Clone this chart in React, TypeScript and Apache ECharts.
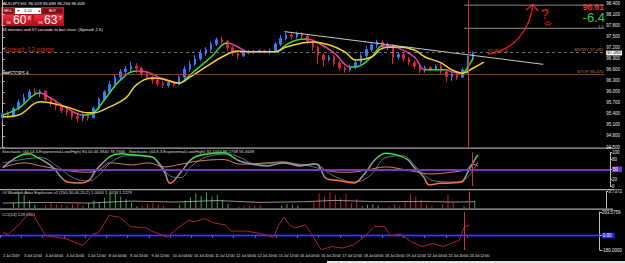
import React, { useEffect, useRef } from 'react';
import * as echarts from 'echarts';

const SLOT_COUNT = 113;
const timeLabels = [
  '2 Jul 2019', '3 Jul 12:00', '4 Jul 04:00', '4 Jul 20:00', '5 Jul 12:00', '8 Jul 04:00',
  '8 Jul 20:00', '9 Jul 12:00', '10 Jul 04:00', '10 Jul 20:00', '11 Jul 12:00', '12 Jul 04:00',
  '12 Jul 20:00', '15 Jul 12:00', '16 Jul 04:00', '16 Jul 20:00', '17 Jul 12:00', '18 Jul 04:00',
  '18 Jul 20:00', '19 Jul 12:00', '22 Jul 04:00', '22 Jul 20:00', '23 Jul 12:00',
];

// [open, close, low, high]
const candles = [
  [95.30, 95.40, 95.22, 95.45], [95.40, 95.36, 95.28, 95.48], [95.36, 95.55, 95.32, 95.60],
  [95.55, 95.72, 95.50, 95.80], [95.72, 95.85, 95.65, 95.95], [95.85, 96.00, 95.80, 96.08],
  [96.00, 95.95, 95.88, 96.10], [95.95, 96.02, 95.85, 96.07], [96.02, 95.80, 95.75, 96.05],
  [95.80, 95.70, 95.60, 95.85], [95.70, 95.62, 95.50, 95.78], [95.62, 95.50, 95.42, 95.66],
  [95.50, 95.45, 95.35, 95.58], [95.45, 95.33, 95.25, 95.52], [95.33, 95.28, 95.18, 95.40],
  [95.28, 95.35, 95.20, 95.42], [95.35, 95.30, 95.22, 95.44], [95.30, 95.55, 95.28, 95.60],
  [95.55, 95.80, 95.50, 95.85], [95.80, 96.00, 95.75, 96.05], [96.00, 96.20, 95.95, 96.30],
  [96.20, 96.40, 96.10, 96.48], [96.40, 96.55, 96.35, 96.62], [96.55, 96.62, 96.45, 96.70],
  [96.62, 96.70, 96.52, 96.82], [96.70, 96.64, 96.52, 96.78], [96.64, 96.50, 96.42, 96.70],
  [96.50, 96.40, 96.32, 96.56], [96.40, 96.32, 96.22, 96.45], [96.32, 96.22, 96.15, 96.38],
  [96.22, 96.18, 96.10, 96.30], [96.18, 96.25, 96.12, 96.32], [96.25, 96.20, 96.14, 96.30],
  [96.20, 96.40, 96.18, 96.45], [96.40, 96.62, 96.35, 96.70], [96.62, 96.75, 96.55, 96.85],
  [96.75, 96.90, 96.70, 97.00], [96.90, 97.05, 96.85, 97.15], [97.05, 97.15, 96.98, 97.22],
  [97.15, 97.30, 97.10, 97.38], [97.30, 97.42, 97.25, 97.48], [97.42, 97.38, 97.30, 97.50],
  [97.38, 97.20, 97.12, 97.42], [97.20, 97.05, 96.98, 97.25], [97.05, 96.98, 96.90, 97.12],
  [96.98, 97.06, 96.95, 97.12], [97.06, 97.10, 97.02, 97.14], [97.10, 97.08, 97.03, 97.14],
  [97.08, 97.12, 97.05, 97.16], [97.12, 97.08, 97.04, 97.15], [97.08, 97.12, 97.02, 97.18],
  [97.12, 97.30, 97.10, 97.35], [97.30, 97.45, 97.25, 97.55], [97.45, 97.55, 97.40, 97.62],
  [97.55, 97.50, 97.42, 97.60], [97.50, 97.58, 97.45, 97.64], [97.58, 97.52, 97.44, 97.62],
  [97.52, 97.38, 97.30, 97.56], [97.38, 97.22, 97.12, 97.42], [97.22, 97.00, 96.75, 97.25],
  [97.00, 96.88, 96.70, 97.05], [96.88, 96.95, 96.82, 97.00], [96.95, 96.78, 96.70, 97.00],
  [96.78, 96.65, 96.58, 96.85], [96.65, 96.60, 96.52, 96.70], [96.60, 96.68, 96.55, 96.74],
  [96.68, 96.80, 96.62, 96.86], [96.80, 96.98, 96.75, 97.05], [96.98, 97.15, 96.92, 97.25],
  [97.15, 97.28, 97.10, 97.35], [97.28, 97.35, 97.20, 97.42], [97.35, 97.22, 97.15, 97.40],
  [97.22, 97.28, 97.14, 97.34], [97.28, 96.95, 96.75, 97.30], [96.95, 97.02, 96.88, 97.08],
  [97.02, 96.90, 96.82, 97.06], [96.90, 96.80, 96.72, 96.95], [96.80, 96.70, 96.62, 96.85],
  [96.70, 96.58, 96.50, 96.75], [96.58, 96.66, 96.52, 96.72], [96.66, 96.62, 96.56, 96.70],
  [96.62, 96.70, 96.58, 96.75], [96.70, 96.55, 96.48, 96.78], [96.55, 96.42, 96.28, 96.60],
  [96.42, 96.48, 96.30, 96.55], [96.48, 96.40, 96.32, 96.52], [96.40, 96.60, 96.38, 96.65],
  [96.60, 96.90, 96.50, 96.98], [96.90, 97.06, 96.84, 97.10],
];

const fastMA = [
  [0, 95.37], [3, 95.56], [7, 95.97], [9, 95.83], [12, 95.56], [15, 95.37], [17, 95.43], [19, 95.78],
  [22, 96.32], [25, 96.57], [27, 96.54], [30, 96.35], [33, 96.24], [35, 96.46], [39, 96.95], [42, 97.33],
  [44, 97.22], [46, 97.09], [51, 97.09], [53, 97.28], [55, 97.41], [57, 97.44], [59, 97.33], [62, 97.06],
  [65, 96.68], [66, 96.68], [69, 96.95], [71, 97.25], [74, 97.19], [77, 96.95], [79, 96.60], [81, 96.60],
  [83, 96.60], [84, 96.54], [86, 96.51], [87, 96.68], [88, 96.92],
];
const slowMA = [
  [0, 95.32], [3, 95.37], [7, 95.73], [12, 95.59], [16, 95.43], [17, 95.43], [20, 95.59], [23, 95.83],
  [25, 96.19], [28, 96.38], [30, 96.35], [33, 96.24], [35, 96.40], [38, 96.68], [41, 96.95], [44, 97.11],
  [46, 97.09], [51, 97.09], [53, 97.22], [56, 97.33], [58, 97.36], [61, 97.28], [64, 97.09], [66, 96.87],
  [69, 96.95], [71, 97.19], [74, 97.22], [77, 97.14], [79, 96.95], [82, 96.79], [84, 96.60], [86, 96.51],
  [88, 96.65], [90, 96.81],
];
const trendLine = [[52.7, 97.64], [101.1, 96.75]];
const upperLevelLine = [[86.3, 98.36], [112.5, 98.36]];
const ratioLevelLine = [[86.3, 97.73], [112.5, 97.73]];
const entryLevel = 97.085;
const stopLevel = 96.47;
const markerIndex = 87;
const priceTicks = [94.5, 94.8, 95.1, 95.4, 95.7, 96.0, 96.3, 96.6, 96.9, 97.2, 97.5, 97.8, 98.1, 98.4];

const stochMain = [
  [0, 55], [3, 89], [5, 96], [6, 89], [9, 60], [11, 23], [12, 12], [14, 9], [16, 17], [17, 41], [18, 60],
  [20, 89], [22, 96], [24, 93], [27, 88], [28, 84], [30, 41], [31, 8], [33, 41], [35, 80], [37, 93], [41, 99],
  [42, 93], [44, 74], [49, 60], [52, 69], [55, 60], [58, 66], [60, 22], [62, 17], [65, 9], [67, 36], [69, 79],
  [71, 98], [73, 93], [75, 79], [76, 60], [78, 27], [79, 3], [81, 8], [83, 9], [85, 12], [86, 36], [87, 66],
  [88, 93],
];
const stochSignal = [
  [0, 55], [4, 69], [7, 60], [12, 46], [16, 41], [18, 50], [20, 69], [24, 63], [27, 69], [30, 57], [33, 65],
  [36, 74], [41, 79], [44, 65], [49, 69], [52, 72], [55, 63], [58, 66], [60, 46], [64, 41], [67, 46], [71, 57],
  [74, 50], [77, 41], [79, 36], [83, 41], [86, 50], [87, 65], [88, 60],
];
const stochSlow = [
  [0, 69], [4, 80], [7, 85], [10, 60], [13, 25], [16, 15], [18, 35], [20, 70], [23, 90], [27, 90], [29, 70],
  [31, 30], [33, 25], [35, 60], [38, 88], [42, 95], [44, 85], [47, 65], [52, 70], [56, 62], [59, 50], [62, 25],
  [65, 12], [68, 30], [71, 85], [74, 90], [77, 50], [80, 15], [84, 12], [86, 25], [88, 70],
];
const stochTicks = [0, 20, 50, 80, 100];

const histUp = [
  0, 0, 30, 95, 80, 45, 20, 0, 0, 0,
  0, 0, 0, 0, 0, 0, 30, 45, 35, 60,
  85, 95, 70, 55, 35, 10, 0, 0, 0, 0,
  0, 0, 0, 20, 45, 65, 90, 75, 95, 70,
  80, 50, 25, 0, 0, 0, 0, 0, 0, 0,
  0, 0, 15, 25, 20, 15, 0, 0, 0, 0,
  0, 0, 0, 0, 0, 0, 0, 10, 20, 25,
  15, 0, 0, 0, 0, 0, 0, 0, 0, 0,
  0, 0, 0, 0, 0, 0, 10, 30, 45,
];
const histDown = [
  0, 0, 0, 0, 0, 0, 0, 0, 20, 30,
  25, 20, 15, 25, 30, 15, 0, 0, 0, 0,
  0, 0, 0, 0, 0, 0, 15, 25, 30, 20,
  15, 0, 0, 0, 0, 0, 0, 0, 0, 0,
  0, 0, 0, 0, 10, 15, 10, 15, 20, 0,
  0, 0, 0, 0, 0, 0, 0, 0, 40, 90,
  70, 95, 80, 60, 85, 30, 55, 0, 0, 0,
  0, 0, 10, 25, 15, 40, 85, 70, 50, 20,
  15, 0, 25, 80, 30, 0, 0, 0, 0,
];
const explosionLine = [
  [0, 30], [8, 34], [16, 30], [24, 42], [32, 36], [40, 45], [48, 34], [56, 38], [62, 46], [70, 38],
  [78, 40], [84, 36], [88, 38],
];

const cci = [
  [0, 37], [1, 17], [3, 133], [5, 287], [6, 229], [8, -2], [12, -40], [14, -98], [15, -118], [16, -60],
  [17, 17], [18, 37], [20, 249], [22, 229], [24, 113], [27, 95], [28, 56], [31, -21], [33, 95], [35, 191],
  [36, 171], [38, 211], [40, 153], [42, 133], [43, 56], [46, 56], [49, 17], [51, -21], [52, 133], [53, 229],
  [54, 133], [55, 95], [57, 133], [58, 37], [60, -176], [62, -137], [64, -156], [66, -118], [68, -21],
  [70, 113], [72, 113], [73, -2], [75, 17], [77, -79], [79, -137], [81, -98], [83, -137], [86, -60],
  [87, 113], [88, 130],
];
const cciMax = 293.5759;
const cciMin = -180;

const FONT = 'Liberation Sans';
const UP_MA = '#35d84a';
const DOWN_MA = '#e0409c';
const MARKER = '#d03434';

function txt(text: string, x: number, y: number, fill: string, fontSize: number, extra: any = {}) {
  return {
    type: 'text', x, y, silent: true,
    style: { text, fill, fontSize, fontFamily: FONT, verticalAlign: 'middle', align: 'left', ...extra },
  };
}

function buildOption() {
  const slots = Array.from({ length: SLOT_COUNT }, (_, i) => 's' + i);
  const lastClose = candles[candles.length - 1][1];

  const maPieces: any[] = fastMA.slice(0, -1).map((p, i) => ({
    gte: p[0], lt: fastMA[i + 1][0], color: fastMA[i + 1][1] >= p[1] ? UP_MA : DOWN_MA,
  }));
  maPieces.push({ gte: fastMA[fastMA.length - 1][0], color: UP_MA });

  const vLine = { xAxis: markerIndex, lineStyle: { color: MARKER, width: 1, type: 'solid' }, label: { show: false } };
  const hiddenCat = (gridIndex: number) => ({
    type: 'category', gridIndex, data: slots, boundaryGap: true, show: false,
  });
  const rightAxisBase = {
    position: 'right',
    axisLine: { show: true, lineStyle: { color: '#bdbdbd', width: 1 } },
    axisTick: { show: true, length: 2, lineStyle: { color: '#bdbdbd' } },
    splitLine: { show: false },
  };
  const labelBase = { color: '#e6e6e6', fontSize: 4.5, fontFamily: FONT, margin: 2 };

  const graphics: any[] = [
    // panel separators
    { type: 'rect', shape: { x: 0, y: 147.5, width: 613, height: 1.2 }, style: { fill: '#a8a8a8' }, silent: true },
    { type: 'rect', shape: { x: 0, y: 189, width: 613, height: 1.2 }, style: { fill: '#a8a8a8' }, silent: true },
    { type: 'rect', shape: { x: 0, y: 208.6, width: 613, height: 1.2 }, style: { fill: '#a8a8a8' }, silent: true },
    { type: 'rect', shape: { x: 327, y: 261, width: 298, height: 2 }, style: { fill: '#e4e4e4' }, silent: true },
    // title + trade panel
    txt('AUDJPY,H4  96.618 96.689 96.294 96.608', 3, 3.3, '#e8e8e8', 4.3),
    { type: 'rect', shape: { x: 1, y: 7, width: 63, height: 19 }, style: { fill: '#b8121c' }, silent: true },
    { type: 'rect', shape: { x: 2, y: 8, width: 12, height: 6 }, style: { fill: '#7d0a12', stroke: '#e25a5a', lineWidth: 0.4 }, silent: true },
    txt('SELL', 8, 11, '#ffffff', 3.5, { align: 'center' }),
    { type: 'rect', shape: { x: 15, y: 8, width: 26, height: 6 }, style: { fill: '#ffffff' }, silent: true },
    txt('▼', 16.5, 11, '#333', 3.5),
    txt('0.10', 28, 11, '#111', 3.8, { align: 'center' }),
    txt('▲', 37.5, 11, '#333', 3.5),
    { type: 'rect', shape: { x: 42, y: 8, width: 21, height: 6 }, style: { fill: '#7d0a12', stroke: '#e25a5a', lineWidth: 0.4 }, silent: true },
    txt('BUY', 52.5, 11, '#ffffff', 3.5, { align: 'center' }),
    {
      type: 'rect', shape: { x: 2, y: 15, width: 30, height: 11 }, silent: true,
      style: { fill: { type: 'linear', x: 0, y: 0, x2: 0, y2: 1, colorStops: [{ offset: 0, color: '#f0303a' }, { offset: 1, color: '#a80c14' }] } },
    },
    {
      type: 'rect', shape: { x: 34, y: 15, width: 29, height: 11 }, silent: true,
      style: { fill: { type: 'linear', x: 0, y: 0, x2: 0, y2: 1, colorStops: [{ offset: 0, color: '#f0303a' }, { offset: 1, color: '#a80c14' }] } },
    },
    txt('96', 6.5, 22.5, '#ffffff', 4),
    txt('60', 13, 20.3, '#ffffff', 12),
    txt('8', 28, 17.5, '#ffffff', 5),
    txt('96', 38.3, 22.5, '#ffffff', 4),
    txt('63', 44, 20.3, '#ffffff', 12),
    txt('7', 59, 17.5, '#ffffff', 5),
    txt('44 minutes and 57 seconds to bar close. (Spread: 2.6)', 2, 29.4, '#e8e8e8', 4.2),
    txt('Spread: 12 points', 3, 49.5, '#d42424', 6.5),
    txt('###STOPS 4', 2, 73, '#e8e8e8', 4.5),
    txt('97.06 (2.6)', 488, 50, '#b07040', 4.3),
    txt('1:1', 604, 26.4, '#bdbdbd', 4.3, { align: 'right' }),
    // top right info
    txt('96.61', 604, 6.6, '#ff2222', 8.5, { align: 'right', fontWeight: 'bold' }),
    txt('-6.4', 605, 17.7, '#2fd23a', 13, { align: 'right' }),
    // red arrow annotation
    {
      type: 'bezierCurve', silent: true,
      shape: { x1: 488, y1: 54, x2: 533, y2: 5, cpx1: 516, cpy1: 50, cpx2: 530, cpy2: 28 },
      style: { stroke: '#e21a1a', lineWidth: 1.4, fill: null },
    },
    {
      type: 'polyline', silent: true,
      shape: { points: [[526, 10], [533, 4.5], [538, 11]] },
      style: { stroke: '#e21a1a', lineWidth: 1.4, fill: null },
    },
    txt('?', 541, 14, '#e21a1a', 14),
    { type: 'ellipse', silent: true, shape: { cx: 548, cy: 23.5, rx: 3.2, ry: 1.5 }, style: { stroke: '#e21a1a', lineWidth: 1, fill: null } },
    // indicator headers
    txt('Stochastic (44,14,3,Exponential,Low/High) 80.00 46.3940 78.7946   Stochastic (44,8,3,Exponential,Low/High) 92.1349 89.2758 55.4639', 2, 151.8, '#dcdcdc', 4.2),
    txt('#4 Waddah Attar Explosion v2 (150,30,40,20,2) 1.0000 1.4073 1.1229', 2, 192.3, '#dcdcdc', 4.2),
    txt('CCI(14) 129.6961', 2, 214.5, '#dcdcdc', 4.2),
  ];

  return {
    animation: false,
    backgroundColor: '#000000',
    textStyle: { fontFamily: FONT },
    grid: [
      { left: 0, right: 13, top: 0, height: 147 },
      { left: 0, right: 13, top: 152.5, height: 33.5 },
      { left: 0, right: 13, top: 191.5, height: 16.5 },
      { left: 0, right: 13, top: 212, height: 38 },
    ],
    xAxis: [
      hiddenCat(0),
      hiddenCat(1),
      hiddenCat(2),
      {
        type: 'category', gridIndex: 3, data: slots, boundaryGap: true,
        axisLine: { show: true, lineStyle: { color: '#bdbdbd' } },
        axisTick: { show: true, length: 2, interval: (i: number) => i % 4 === 0 && i / 4 < timeLabels.length, lineStyle: { color: '#bdbdbd' } },
        axisLabel: {
          color: '#e6e6e6', fontSize: 3.6, fontFamily: FONT, margin: 4, interval: 0, align: 'left',
          formatter: (_v: string, i: number) => (i % 4 === 0 && timeLabels[i / 4]) ? timeLabels[i / 4] : '',
        },
      },
      { type: 'value', gridIndex: 0, min: -0.5, max: SLOT_COUNT - 0.5, show: false },
    ],
    yAxis: [
      {
        type: 'value', gridIndex: 0, min: 94.5, max: 98.5, ...rightAxisBase,
        axisTick: { ...rightAxisBase.axisTick, customValues: priceTicks },
        axisLabel: {
          ...labelBase,
          customValues: [...priceTicks, lastClose],
          formatter: (v: number) => (Math.abs(v - lastClose) < 1e-9 ? '{c|' + v.toFixed(3) + '}' : v.toFixed(3)),
          rich: { c: { backgroundColor: '#ffffff', color: '#000000', fontSize: 4.5, padding: [0, 1], fontFamily: FONT } },
        },
      },
      {
        type: 'value', gridIndex: 1, min: 0, max: 100, ...rightAxisBase,
        axisTick: { ...rightAxisBase.axisTick, customValues: stochTicks },
        axisLabel: {
          ...labelBase, customValues: stochTicks,
          formatter: (v: number) => (v === 50 ? '{p|50}' : String(v)),
          rich: { p: { backgroundColor: '#6d34c0', color: '#ffffff', fontSize: 4.5, padding: [0.3, 4, 0.3, 1], fontFamily: FONT } },
        },
      },
      {
        type: 'value', gridIndex: 2, min: 0, max: 100, ...rightAxisBase,
        axisTick: { ...rightAxisBase.axisTick, customValues: [100] },
        axisLabel: { ...labelBase, customValues: [100], formatter: () => '3.7372' },
      },
      {
        type: 'value', gridIndex: 3, min: cciMin, max: cciMax, ...rightAxisBase,
        axisTick: { ...rightAxisBase.axisTick, customValues: [cciMin, 0, cciMax] },
        axisLabel: {
          ...labelBase, customValues: [cciMin, 0, cciMax],
          formatter: (v: number) => (v === 0 ? '{b|0.00}' : v.toFixed(4)),
          rich: { b: { backgroundColor: '#2a2ae6', color: '#ffffff', fontSize: 4.5, padding: [0.3, 3, 0.3, 1], fontFamily: FONT } },
        },
      },
    ],
    visualMap: [
      { show: false, type: 'piecewise', seriesIndex: 1, dimension: 0, pieces: maPieces },
      {
        show: false, type: 'piecewise', seriesIndex: 8, dimension: 1,
        pieces: [
          { gt: 80, color: '#2ee83a' },
          { gte: 20, lte: 80, color: '#8c9cb2' },
          { lt: 20, color: '#ff7424' },
        ],
      },
    ],
    series: [
      {
        type: 'candlestick', xAxisIndex: 0, yAxisIndex: 0, data: candles, barWidth: 2,
        itemStyle: { color: '#2f7dff', color0: '#e0203a', borderColor: '#2f7dff', borderColor0: '#e0203a', borderWidth: 1 },
        markLine: {
          silent: true, symbol: ['none', 'none'],
          data: [
            {
              yAxis: entryLevel, lineStyle: { color: '#8c8c8c', width: 0.8, type: [3, 3] },
              label: { show: true, position: 'insideEndTop', formatter: 'ENTRY 97.085', color: '#c07a48', fontSize: 4.3, distance: 1 },
            },
            {
              yAxis: stopLevel, lineStyle: { color: '#9a5a2a', width: 0.8, type: 'solid' },
              label: { show: true, position: 'insideEndTop', formatter: 'STOP 96.470', color: '#c07a48', fontSize: 4.3, distance: 1 },
            },
            vLine,
          ],
        },
      },
      { type: 'line', xAxisIndex: 0, yAxisIndex: 0, data: fastMA, smooth: 0.4, symbol: 'none', lineStyle: { width: 1.5 }, z: 3 },
      { type: 'line', xAxisIndex: 0, yAxisIndex: 0, data: slowMA, smooth: 0.4, symbol: 'none', lineStyle: { width: 1.5, color: '#f2d22a' }, itemStyle: { color: '#f2d22a' }, z: 3 },
      { type: 'line', xAxisIndex: 4, yAxisIndex: 0, data: trendLine, symbol: 'none', lineStyle: { width: 1, color: '#c8c8c8' } },
      { type: 'line', xAxisIndex: 4, yAxisIndex: 0, data: upperLevelLine, symbol: 'none', lineStyle: { width: 1, color: '#8a8a8a' } },
      { type: 'line', xAxisIndex: 4, yAxisIndex: 0, data: ratioLevelLine, symbol: 'none', lineStyle: { width: 1, color: '#8a8a8a' } },
      {
        type: 'line', xAxisIndex: 1, yAxisIndex: 1, data: stochSlow, smooth: 0.4, symbol: 'none',
        lineStyle: { width: 0.8, color: '#7a8ca4' },
        markLine: {
          silent: true, symbol: ['none', 'none'],
          data: [
            { yAxis: 50, lineStyle: { color: '#7434c6', width: 2.2, type: 'solid' }, label: { show: false } },
            vLine,
          ],
        },
      },
      { type: 'line', xAxisIndex: 1, yAxisIndex: 1, data: stochSignal, smooth: 0.4, symbol: 'none', lineStyle: { width: 1, color: '#d2844a' } },
      { type: 'line', xAxisIndex: 1, yAxisIndex: 1, data: stochMain, smooth: 0.4, symbol: 'none', lineStyle: { width: 1.5 }, z: 4 },
      {
        type: 'bar', xAxisIndex: 2, yAxisIndex: 2, data: histUp, barWidth: 1, itemStyle: { color: '#3aa64a' },
        markLine: { silent: true, symbol: ['none', 'none'], data: [vLine] },
      },
      { type: 'bar', xAxisIndex: 2, yAxisIndex: 2, data: histDown, barWidth: 1, barGap: '-100%', itemStyle: { color: '#cc1630' } },
      { type: 'line', xAxisIndex: 2, yAxisIndex: 2, data: explosionLine, symbol: 'none', lineStyle: { width: 0.7, color: '#cfcfcf' } },
      {
        type: 'line', xAxisIndex: 3, yAxisIndex: 3, data: cci, symbol: 'none', lineStyle: { width: 1, color: '#b0202c' },
        markArea: {
          silent: true,
          data: [[
            {
              yAxis: -32,
              itemStyle: {
                color: {
                  type: 'linear', x: 0, y: 0, x2: 0, y2: 1,
                  colorStops: [
                    { offset: 0, color: 'rgba(20,20,150,0)' },
                    { offset: 0.5, color: 'rgba(40,40,210,0.85)' },
                    { offset: 1, color: 'rgba(20,20,150,0)' },
                  ],
                },
              },
            },
            { yAxis: 32 },
          ]],
        },
        markLine: { silent: true, symbol: ['none', 'none'], data: [vLine] },
        z: 4,
      },
    ],
    graphic: graphics,
  };
}

export default function App() {
  const ref = useRef<HTMLDivElement>(null);
  useEffect(() => {
    if (!ref.current) return;
    const chart = echarts.init(ref.current, null, { renderer: 'svg' });
    chart.setOption(buildOption() as any);
    return () => chart.dispose();
  }, []);
  return (
    <div
      ref={ref}
      style={{ position: 'fixed', left: 0, top: 0, width: 625, height: 263, background: '#000' }}
    />
  );
}
